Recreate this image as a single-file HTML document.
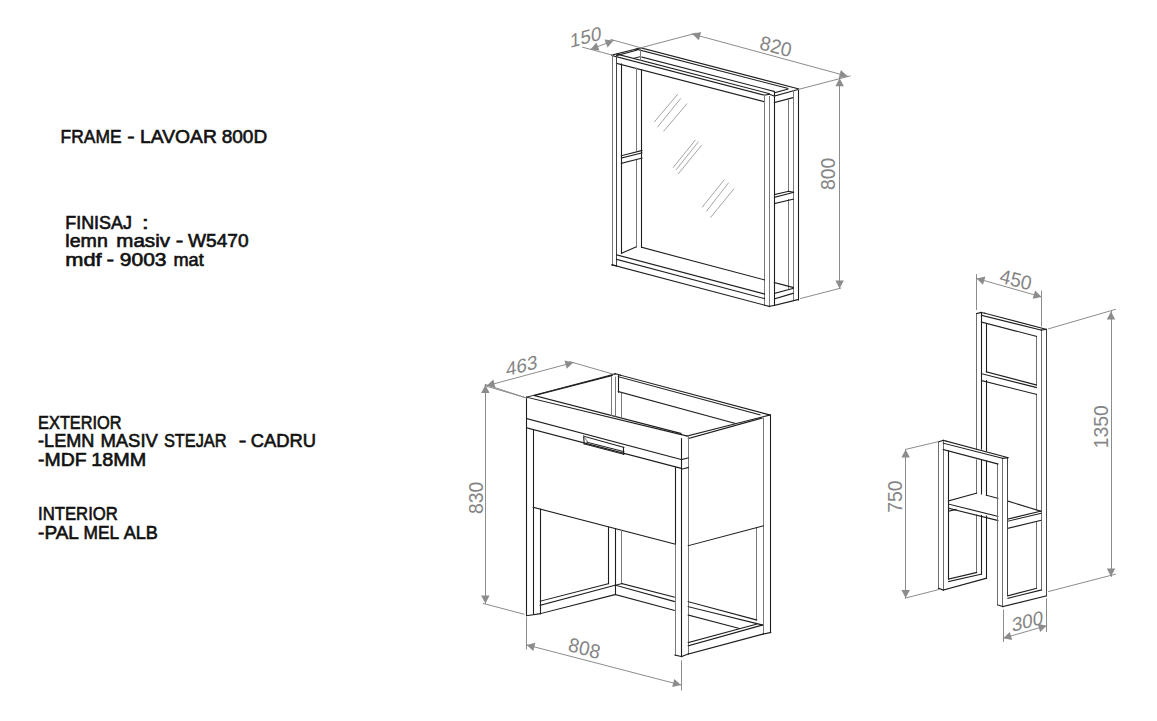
<!DOCTYPE html>
<html><head><meta charset="utf-8"><style>
html,body{margin:0;padding:0;background:#fff;}
body{width:1157px;height:721px;position:relative;overflow:hidden;font-family:"Liberation Sans",sans-serif;}
svg{position:absolute;left:0;top:0;}
</style></head><body>
<svg width="1157" height="721" viewBox="0 0 1157 721" font-family="Liberation Sans, sans-serif" stroke-linecap="square">
<g fill="#111" stroke="#111" stroke-width="0.6">
<text x="60.6" y="142.9" font-size="18.5" textLength="60.9" lengthAdjust="spacingAndGlyphs">FRAME</text>
<text x="127.3" y="142.9" font-size="18.5" textLength="7.4" lengthAdjust="spacingAndGlyphs">-</text>
<text x="140.1" y="142.9" font-size="18.5" textLength="76.8" lengthAdjust="spacingAndGlyphs">LAVOAR</text>
<text x="221.7" y="142.9" font-size="18.5" textLength="45.5" lengthAdjust="spacingAndGlyphs">800D</text>
<text x="65.3" y="229.2" font-size="17.5" textLength="66.6" lengthAdjust="spacingAndGlyphs">FINISAJ</text>
<text x="142.0" y="229.2" font-size="17.5" textLength="6.7" lengthAdjust="spacingAndGlyphs">:</text>
<text x="65.3" y="247.4" font-size="17.5" textLength="42.5" lengthAdjust="spacingAndGlyphs">lemn</text>
<text x="116.3" y="247.4" font-size="17.5" textLength="53.7" lengthAdjust="spacingAndGlyphs">masiv</text>
<text x="175.7" y="247.4" font-size="17.5" textLength="7.5" lengthAdjust="spacingAndGlyphs">-</text>
<text x="188.1" y="247.4" font-size="17.5" textLength="60.5" lengthAdjust="spacingAndGlyphs">W5470</text>
<text x="65.3" y="266.4" font-size="17.5" textLength="36.4" lengthAdjust="spacingAndGlyphs">mdf</text>
<text x="106.5" y="266.4" font-size="17.5" textLength="7.6" lengthAdjust="spacingAndGlyphs">-</text>
<text x="119.8" y="266.4" font-size="17.5" textLength="46.7" lengthAdjust="spacingAndGlyphs">9003</text>
<text x="173.4" y="266.4" font-size="17.5" textLength="30.3" lengthAdjust="spacingAndGlyphs">mat</text>
<text x="38.1" y="428.6" font-size="17.5" textLength="83.5" lengthAdjust="spacingAndGlyphs">EXTERIOR</text>
<text x="38.1" y="446.5" font-size="17.5" textLength="56.3" lengthAdjust="spacingAndGlyphs">-LEMN</text>
<text x="100.4" y="446.5" font-size="17.5" textLength="57.5" lengthAdjust="spacingAndGlyphs">MASIV</text>
<text x="163.9" y="446.5" font-size="17.5" textLength="62.7" lengthAdjust="spacingAndGlyphs">STEJAR</text>
<text x="238.8" y="446.5" font-size="17.5" textLength="7.6" lengthAdjust="spacingAndGlyphs">-</text>
<text x="250.8" y="446.5" font-size="17.5" textLength="65.3" lengthAdjust="spacingAndGlyphs">CADRU</text>
<text x="38.1" y="466" font-size="17.5" textLength="48.5" lengthAdjust="spacingAndGlyphs">-MDF</text>
<text x="91.3" y="466" font-size="17.5" textLength="55.0" lengthAdjust="spacingAndGlyphs">18MM</text>
<text x="38.1" y="520.4" font-size="17.5" textLength="79.7" lengthAdjust="spacingAndGlyphs">INTERIOR</text>
<text x="38.1" y="538.5" font-size="17.5" textLength="40.8" lengthAdjust="spacingAndGlyphs">-PAL</text>
<text x="83.5" y="538.5" font-size="17.5" textLength="35.6" lengthAdjust="spacingAndGlyphs">MEL</text>
<text x="123.7" y="538.5" font-size="17.5" textLength="34.2" lengthAdjust="spacingAndGlyphs">ALB</text>
</g>
<line x1="640.8" y1="47.8" x2="798.5" y2="88.8" stroke="#1e1e1e" stroke-width="1.1"/>
<line x1="636.0" y1="49.0" x2="787.8" y2="88.4" stroke="#1e1e1e" stroke-width="1.1"/>
<line x1="641.9" y1="57.1" x2="774.4" y2="91.5" stroke="#1e1e1e" stroke-width="1.1"/>
<line x1="616.8" y1="54.1" x2="769.0" y2="93.6" stroke="#1e1e1e" stroke-width="1.1"/>
<line x1="612.0" y1="55.5" x2="764.5" y2="95.2" stroke="#1e1e1e" stroke-width="1.1"/>
<line x1="616.5" y1="63.3" x2="764.5" y2="101.8" stroke="#1e1e1e" stroke-width="1.1"/>
<line x1="612.0" y1="55.0" x2="640.8" y2="47.8" stroke="#1e1e1e" stroke-width="1.1"/>
<line x1="616.6" y1="55.5" x2="637.0" y2="50.2" stroke="#1e1e1e" stroke-width="1.1"/>
<line x1="634.3" y1="58.2" x2="640.5" y2="56.6" stroke="#1e1e1e" stroke-width="1.1"/>
<line x1="764.5" y1="95.2" x2="769.3" y2="94.2" stroke="#1e1e1e" stroke-width="1.1"/>
<line x1="769.3" y1="94.2" x2="774.4" y2="96.0" stroke="#1e1e1e" stroke-width="1.1"/>
<line x1="774.4" y1="96.0" x2="798.5" y2="89.4" stroke="#1e1e1e" stroke-width="1.1"/>
<line x1="774.4" y1="92.9" x2="787.8" y2="89.2" stroke="#1e1e1e" stroke-width="1.1"/>
<line x1="774.4" y1="102.5" x2="793.5" y2="97.5" stroke="#1e1e1e" stroke-width="1.1"/>
<line x1="612.5" y1="55.0" x2="612.5" y2="265.0" stroke="#7a7a7a" stroke-width="1.0"/>
<line x1="616.5" y1="56.7" x2="616.5" y2="265.8" stroke="#444" stroke-width="1.0"/>
<line x1="621.5" y1="64.0" x2="621.5" y2="253.3" stroke="#1e1e1e" stroke-width="1.1"/>
<line x1="636.5" y1="68.4" x2="636.5" y2="150.5" stroke="#7a7a7a" stroke-width="1.0"/>
<line x1="636.5" y1="159.7" x2="636.5" y2="247.0" stroke="#7a7a7a" stroke-width="1.0"/>
<line x1="641.5" y1="69.9" x2="641.5" y2="247.5" stroke="#1e1e1e" stroke-width="1.1"/>
<line x1="640.5" y1="48.3" x2="640.5" y2="60.3" stroke="#7a7a7a" stroke-width="1.0"/>
<line x1="764.5" y1="95.2" x2="764.5" y2="305.2" stroke="#7a7a7a" stroke-width="1.0"/>
<line x1="769.5" y1="96.5" x2="769.5" y2="306.4" stroke="#7a7a7a" stroke-width="1.0"/>
<line x1="774.5" y1="92.9" x2="774.5" y2="305.3" stroke="#1e1e1e" stroke-width="1.1"/>
<line x1="788.5" y1="99.2" x2="788.5" y2="191.3" stroke="#7a7a7a" stroke-width="1.0"/>
<line x1="788.5" y1="199.5" x2="788.5" y2="288.4" stroke="#7a7a7a" stroke-width="1.0"/>
<line x1="793.5" y1="90.5" x2="793.5" y2="300.3" stroke="#7a7a7a" stroke-width="1.0"/>
<line x1="798.5" y1="89.4" x2="798.5" y2="300.0" stroke="#1e1e1e" stroke-width="1.1"/>
<line x1="621.4" y1="155.7" x2="641.9" y2="150.5" stroke="#1e1e1e" stroke-width="1.1"/>
<line x1="621.4" y1="158.0" x2="641.9" y2="152.8" stroke="#1e1e1e" stroke-width="1.1"/>
<line x1="621.4" y1="163.3" x2="641.9" y2="158.2" stroke="#1e1e1e" stroke-width="1.1"/>
<line x1="774.5" y1="194.5" x2="788.3" y2="191.3" stroke="#1e1e1e" stroke-width="1.1"/>
<line x1="788.3" y1="191.3" x2="793.5" y2="192.3" stroke="#1e1e1e" stroke-width="1.1"/>
<line x1="774.5" y1="197.3" x2="793.5" y2="192.3" stroke="#1e1e1e" stroke-width="1.1"/>
<line x1="774.5" y1="203.6" x2="793.5" y2="199.2" stroke="#1e1e1e" stroke-width="1.1"/>
<line x1="641.9" y1="247.4" x2="764.5" y2="279.9" stroke="#1e1e1e" stroke-width="1.1"/>
<line x1="774.4" y1="282.5" x2="793.2" y2="287.5" stroke="#1e1e1e" stroke-width="1.1"/>
<line x1="616.5" y1="254.8" x2="764.5" y2="294.0" stroke="#1e1e1e" stroke-width="1.1"/>
<line x1="616.5" y1="259.4" x2="764.5" y2="298.6" stroke="#1e1e1e" stroke-width="1.1"/>
<line x1="612.0" y1="264.8" x2="769.5" y2="306.5" stroke="#1e1e1e" stroke-width="1.1"/>
<line x1="621.5" y1="253.3" x2="636.0" y2="247.0" stroke="#1e1e1e" stroke-width="1.1"/>
<line x1="612.0" y1="265.0" x2="616.5" y2="265.8" stroke="#1e1e1e" stroke-width="1.1"/>
<line x1="774.8" y1="293.3" x2="793.2" y2="288.4" stroke="#1e1e1e" stroke-width="1.1"/>
<line x1="774.8" y1="298.7" x2="793.2" y2="293.3" stroke="#1e1e1e" stroke-width="1.1"/>
<line x1="774.8" y1="305.3" x2="798.3" y2="299.5" stroke="#1e1e1e" stroke-width="1.1"/>
<line x1="769.5" y1="306.4" x2="774.5" y2="305.3" stroke="#1e1e1e" stroke-width="1.1"/>
<line x1="654.6" y1="121.6" x2="677.4" y2="94.6" stroke="#9a9a9a" stroke-width="0.9"/>
<line x1="657.7" y1="126.8" x2="680.6" y2="98.7" stroke="#9a9a9a" stroke-width="0.9"/>
<line x1="663.9" y1="131.0" x2="686.8" y2="103.9" stroke="#9a9a9a" stroke-width="0.9"/>
<line x1="673.3" y1="167.4" x2="695.1" y2="140.3" stroke="#9a9a9a" stroke-width="0.9"/>
<line x1="676.4" y1="169.4" x2="698.2" y2="142.0" stroke="#9a9a9a" stroke-width="0.9"/>
<line x1="678.5" y1="173.6" x2="701.4" y2="145.5" stroke="#9a9a9a" stroke-width="0.9"/>
<line x1="702.4" y1="206.9" x2="724.2" y2="179.8" stroke="#9a9a9a" stroke-width="0.9"/>
<line x1="706.6" y1="211.0" x2="728.4" y2="183.0" stroke="#9a9a9a" stroke-width="0.9"/>
<line x1="710.7" y1="217.3" x2="733.6" y2="189.2" stroke="#9a9a9a" stroke-width="0.9"/>
<line x1="611.9" y1="55.0" x2="582.5" y2="47.2" stroke="#8c8c8c" stroke-width="1.0"/>
<line x1="640.4" y1="47.7" x2="611.0" y2="39.5" stroke="#8c8c8c" stroke-width="1.0"/>
<line x1="590.5" y1="49.5" x2="613.5" y2="40.5" stroke="#8c8c8c" stroke-width="1.0"/>
<polygon points="590.5,49.5 596.4,42.6 599.5,50.5" fill="#8c8c8c"/>
<polygon points="613.5,40.5 607.6,47.4 604.5,39.5" fill="#8c8c8c"/>
<text x="0" y="0" transform="matrix(0.966,-0.259,0.0,1.0,585.7,36.7)" text-anchor="middle" dominant-baseline="central" font-size="19.4" fill="#858585">150</text>
<line x1="640.8" y1="47.8" x2="696.0" y2="33.2" stroke="#8c8c8c" stroke-width="1.0"/>
<line x1="692.3" y1="34.0" x2="847.5" y2="76.2" stroke="#8c8c8c" stroke-width="1.0"/>
<polygon points="692.3,34.0 701.1,32.0 698.9,40.2" fill="#8c8c8c"/>
<polygon points="847.5,76.2 838.7,78.2 840.9,70.0" fill="#8c8c8c"/>
<line x1="798.5" y1="89.4" x2="850.0" y2="76.0" stroke="#8c8c8c" stroke-width="1.0"/>
<text x="0" y="0" transform="matrix(0.966,0.259,-0.22,1.0,775.9,46.3)" text-anchor="middle" dominant-baseline="central" font-size="19.4" fill="#858585">820</text>
<line x1="839.5" y1="78.3" x2="839.5" y2="288.6" stroke="#8c8c8c" stroke-width="1.0"/>
<polygon points="839.6,78.3 843.9,86.3 835.4,86.3" fill="#8c8c8c"/>
<polygon points="839.6,288.6 835.4,280.6 843.9,280.6" fill="#8c8c8c"/>
<line x1="800.6" y1="298.5" x2="840.7" y2="288.1" stroke="#8c8c8c" stroke-width="1.0"/>
<text x="0" y="0" transform="matrix(0,-1,1,0,828,173.9)" text-anchor="middle" dominant-baseline="central" font-size="19.4" fill="#858585">800</text>
<line x1="526.6" y1="397.2" x2="687.0" y2="436.0" stroke="#1e1e1e" stroke-width="1.1"/>
<line x1="534.4" y1="395.5" x2="681.0" y2="433.5" stroke="#1e1e1e" stroke-width="1.1"/>
<line x1="526.6" y1="418.6" x2="681.6" y2="459.6" stroke="#1e1e1e" stroke-width="1.1"/>
<line x1="526.6" y1="427.8" x2="681.7" y2="468.5" stroke="#1e1e1e" stroke-width="1.1"/>
<line x1="526.6" y1="397.2" x2="615.4" y2="373.9" stroke="#1e1e1e" stroke-width="1.1"/>
<line x1="534.4" y1="395.5" x2="612.0" y2="375.5" stroke="#1e1e1e" stroke-width="1.1"/>
<line x1="620.4" y1="375.2" x2="770.0" y2="415.0" stroke="#1e1e1e" stroke-width="1.1"/>
<line x1="618.4" y1="376.7" x2="760.0" y2="414.8" stroke="#1e1e1e" stroke-width="1.1"/>
<line x1="609.7" y1="375.7" x2="615.5" y2="373.7" stroke="#1e1e1e" stroke-width="1.1"/>
<line x1="615.5" y1="373.7" x2="620.4" y2="375.2" stroke="#1e1e1e" stroke-width="1.1"/>
<line x1="618.3" y1="391.6" x2="735.0" y2="423.3" stroke="#1e1e1e" stroke-width="1.1"/>
<line x1="687.0" y1="436.0" x2="770.0" y2="415.0" stroke="#1e1e1e" stroke-width="1.1"/>
<line x1="688.3" y1="438.5" x2="762.0" y2="418.0" stroke="#1e1e1e" stroke-width="1.1"/>
<line x1="618.5" y1="375.7" x2="618.5" y2="392.2" stroke="#1e1e1e" stroke-width="1.1"/>
<line x1="611.5" y1="376.7" x2="611.5" y2="415.5" stroke="#7a7a7a" stroke-width="1.0"/>
<line x1="615.5" y1="377.1" x2="615.5" y2="416.0" stroke="#7a7a7a" stroke-width="1.0"/>
<line x1="621.5" y1="393.2" x2="621.5" y2="417.0" stroke="#7a7a7a" stroke-width="1.0"/>
<line x1="526.5" y1="397.2" x2="526.5" y2="615.7" stroke="#1e1e1e" stroke-width="1.1"/>
<line x1="533.5" y1="429.6" x2="533.5" y2="613.7" stroke="#1e1e1e" stroke-width="1.1"/>
<line x1="540.5" y1="509.3" x2="540.5" y2="613.7" stroke="#1e1e1e" stroke-width="1.1"/>
<line x1="675.5" y1="467.5" x2="675.5" y2="544.2" stroke="#1e1e1e" stroke-width="1.1"/>
<line x1="675.5" y1="544.2" x2="675.5" y2="655.0" stroke="#7a7a7a" stroke-width="1.0"/>
<line x1="681.5" y1="438.7" x2="681.5" y2="656.6" stroke="#1e1e1e" stroke-width="1.1"/>
<line x1="688.5" y1="436.2" x2="688.5" y2="654.0" stroke="#7a7a7a" stroke-width="1.0"/>
<line x1="756.5" y1="528.3" x2="756.5" y2="620.0" stroke="#7a7a7a" stroke-width="1.0"/>
<line x1="763.5" y1="418.0" x2="763.5" y2="634.0" stroke="#7a7a7a" stroke-width="1.0"/>
<line x1="770.5" y1="415.0" x2="770.5" y2="632.5" stroke="#1e1e1e" stroke-width="1.1"/>
<line x1="533.3" y1="507.3" x2="675.0" y2="544.2" stroke="#1e1e1e" stroke-width="1.1"/>
<line x1="583.6" y1="436.2" x2="623.8" y2="447.4" stroke="#1e1e1e" stroke-width="1.1"/>
<line x1="623.5" y1="447.4" x2="623.5" y2="454.3" stroke="#1e1e1e" stroke-width="1.1"/>
<line x1="623.8" y1="454.3" x2="584.2" y2="443.8" stroke="#1e1e1e" stroke-width="1.1"/>
<line x1="584.2" y1="443.8" x2="583.6" y2="436.2" stroke="#1e1e1e" stroke-width="1.1"/>
<line x1="586.9" y1="442.2" x2="623.8" y2="451.6" stroke="#1e1e1e" stroke-width="1.1"/>
<line x1="583.6" y1="436.2" x2="587.5" y2="441.5" stroke="#7a7a7a" stroke-width="1.0"/>
<line x1="688.3" y1="545.7" x2="763.2" y2="525.8" stroke="#1e1e1e" stroke-width="1.1"/>
<line x1="681.6" y1="459.6" x2="688.3" y2="457.9" stroke="#1e1e1e" stroke-width="1.1"/>
<line x1="681.6" y1="469.2" x2="688.3" y2="467.5" stroke="#1e1e1e" stroke-width="1.1"/>
<line x1="608.5" y1="527.2" x2="608.5" y2="583.6" stroke="#1e1e1e" stroke-width="1.1"/>
<line x1="615.5" y1="529.0" x2="615.5" y2="594.5" stroke="#1e1e1e" stroke-width="1.1"/>
<line x1="621.5" y1="530.6" x2="621.5" y2="583.6" stroke="#7a7a7a" stroke-width="1.0"/>
<line x1="540.2" y1="601.2" x2="608.6" y2="583.6" stroke="#1e1e1e" stroke-width="1.1"/>
<line x1="540.2" y1="605.3" x2="615.4" y2="585.2" stroke="#1e1e1e" stroke-width="1.1"/>
<line x1="540.2" y1="613.7" x2="615.4" y2="594.5" stroke="#1e1e1e" stroke-width="1.1"/>
<line x1="526.6" y1="615.7" x2="540.2" y2="613.7" stroke="#1e1e1e" stroke-width="1.1"/>
<line x1="621.8" y1="583.6" x2="674.3" y2="597.2" stroke="#1e1e1e" stroke-width="1.1"/>
<line x1="615.4" y1="585.2" x2="674.3" y2="601.5" stroke="#1e1e1e" stroke-width="1.1"/>
<line x1="615.4" y1="594.5" x2="674.3" y2="610.4" stroke="#1e1e1e" stroke-width="1.1"/>
<line x1="615.4" y1="585.2" x2="621.8" y2="583.6" stroke="#1e1e1e" stroke-width="1.1"/>
<line x1="688.3" y1="601.7" x2="756.6" y2="620.0" stroke="#1e1e1e" stroke-width="1.1"/>
<line x1="688.3" y1="606.7" x2="762.5" y2="625.0" stroke="#1e1e1e" stroke-width="1.1"/>
<line x1="688.3" y1="615.0" x2="739.0" y2="628.3" stroke="#1e1e1e" stroke-width="1.1"/>
<line x1="688.3" y1="654.0" x2="763.2" y2="634.0" stroke="#1e1e1e" stroke-width="1.1"/>
<line x1="688.3" y1="645.8" x2="762.5" y2="625.0" stroke="#1e1e1e" stroke-width="1.1"/>
<line x1="688.3" y1="642.5" x2="756.6" y2="624.2" stroke="#1e1e1e" stroke-width="1.1"/>
<line x1="675.0" y1="655.0" x2="681.7" y2="656.6" stroke="#1e1e1e" stroke-width="1.1"/>
<line x1="681.7" y1="656.6" x2="688.3" y2="654.0" stroke="#1e1e1e" stroke-width="1.1"/>
<line x1="763.2" y1="634.0" x2="770.7" y2="632.5" stroke="#1e1e1e" stroke-width="1.1"/>
<line x1="485.2" y1="384.4" x2="526.7" y2="398.1" stroke="#8c8c8c" stroke-width="1.0"/>
<line x1="483.4" y1="603.5" x2="524.0" y2="614.2" stroke="#8c8c8c" stroke-width="1.0"/>
<line x1="485.5" y1="385.0" x2="485.5" y2="603.5" stroke="#8c8c8c" stroke-width="1.0"/>
<polygon points="485.4,385.0 489.6,393.0 481.1,393.0" fill="#8c8c8c"/>
<polygon points="485.4,603.5 481.1,595.5 489.6,595.5" fill="#8c8c8c"/>
<text x="0" y="0" transform="matrix(0,-1,1,0,476.2,497.9)" text-anchor="middle" dominant-baseline="central" font-size="19.4" fill="#858585">830</text>
<line x1="525.0" y1="397.5" x2="485.0" y2="385.8" stroke="#8c8c8c" stroke-width="1.0"/>
<line x1="613.3" y1="374.2" x2="570.0" y2="361.7" stroke="#8c8c8c" stroke-width="1.0"/>
<line x1="486.7" y1="385.8" x2="573.3" y2="362.5" stroke="#8c8c8c" stroke-width="1.0"/>
<polygon points="486.7,385.8 493.3,379.6 495.5,387.8" fill="#8c8c8c"/>
<polygon points="573.3,362.5 566.7,368.7 564.5,360.5" fill="#8c8c8c"/>
<text x="0" y="0" transform="matrix(0.966,-0.259,0.0,1.0,521.7,365.4)" text-anchor="middle" dominant-baseline="central" font-size="19.4" fill="#858585">463</text>
<line x1="526.5" y1="617.8" x2="526.5" y2="649.0" stroke="#8c8c8c" stroke-width="1.0"/>
<line x1="681.5" y1="660.8" x2="681.5" y2="690.0" stroke="#8c8c8c" stroke-width="1.0"/>
<line x1="526.6" y1="644.9" x2="681.0" y2="685.0" stroke="#8c8c8c" stroke-width="1.0"/>
<polygon points="526.6,644.9 535.4,642.8 533.3,651.0" fill="#8c8c8c"/>
<polygon points="681.0,685.0 672.2,687.1 674.3,678.9" fill="#8c8c8c"/>
<text x="0" y="0" transform="matrix(0.966,0.259,-0.22,1.0,584.5,648.1)" text-anchor="middle" dominant-baseline="central" font-size="19.4" fill="#858585">808</text>
<line x1="976.5" y1="313.6" x2="976.5" y2="449.5" stroke="#6f6f6f" stroke-width="1.0"/>
<line x1="976.5" y1="460.0" x2="976.5" y2="493.1" stroke="#6f6f6f" stroke-width="1.0"/>
<line x1="976.5" y1="515.0" x2="976.5" y2="572.5" stroke="#6f6f6f" stroke-width="1.0"/>
<line x1="981.5" y1="312.5" x2="981.5" y2="449.0" stroke="#1e1e1e" stroke-width="1.1"/>
<line x1="981.5" y1="460.5" x2="981.5" y2="494.0" stroke="#1e1e1e" stroke-width="1.1"/>
<line x1="981.5" y1="515.5" x2="981.5" y2="574.1" stroke="#1e1e1e" stroke-width="1.1"/>
<line x1="986.5" y1="323.5" x2="986.5" y2="371.9" stroke="#1e1e1e" stroke-width="1.1"/>
<line x1="986.5" y1="380.6" x2="986.5" y2="450.8" stroke="#1e1e1e" stroke-width="1.1"/>
<line x1="986.5" y1="461.2" x2="986.5" y2="495.2" stroke="#1e1e1e" stroke-width="1.1"/>
<line x1="986.5" y1="516.0" x2="986.5" y2="578.3" stroke="#1e1e1e" stroke-width="1.1"/>
<line x1="1036.5" y1="336.4" x2="1036.5" y2="385.0" stroke="#6f6f6f" stroke-width="1.0"/>
<line x1="1036.5" y1="394.3" x2="1036.5" y2="509.6" stroke="#6f6f6f" stroke-width="1.0"/>
<line x1="1036.5" y1="521.7" x2="1036.5" y2="588.3" stroke="#6f6f6f" stroke-width="1.0"/>
<line x1="1041.5" y1="330.1" x2="1041.5" y2="590.0" stroke="#6f6f6f" stroke-width="1.0"/>
<line x1="1046.5" y1="329.4" x2="1046.5" y2="595.8" stroke="#444" stroke-width="1.0"/>
<line x1="976.6" y1="313.6" x2="981.0" y2="312.5" stroke="#1e1e1e" stroke-width="1.1"/>
<line x1="981.0" y1="312.5" x2="984.7" y2="313.2" stroke="#1e1e1e" stroke-width="1.1"/>
<line x1="984.7" y1="313.2" x2="1046.4" y2="329.4" stroke="#1e1e1e" stroke-width="1.1"/>
<line x1="981.5" y1="315.4" x2="1041.3" y2="330.1" stroke="#1e1e1e" stroke-width="1.1"/>
<line x1="1041.3" y1="330.1" x2="1046.4" y2="329.4" stroke="#1e1e1e" stroke-width="1.1"/>
<line x1="981.5" y1="322.0" x2="1036.4" y2="336.4" stroke="#1e1e1e" stroke-width="1.1"/>
<line x1="986.3" y1="371.9" x2="1036.4" y2="385.0" stroke="#1e1e1e" stroke-width="1.1"/>
<line x1="981.5" y1="373.7" x2="1036.4" y2="387.5" stroke="#1e1e1e" stroke-width="1.1"/>
<line x1="981.5" y1="380.6" x2="1036.4" y2="394.3" stroke="#1e1e1e" stroke-width="1.1"/>
<line x1="948.9" y1="500.7" x2="976.6" y2="493.1" stroke="#1e1e1e" stroke-width="1.1"/>
<line x1="986.3" y1="495.2" x2="997.9" y2="498.4" stroke="#1e1e1e" stroke-width="1.1"/>
<line x1="1007.9" y1="501.1" x2="1040.8" y2="511.2" stroke="#1e1e1e" stroke-width="1.1"/>
<line x1="948.9" y1="504.2" x2="997.9" y2="516.3" stroke="#1e1e1e" stroke-width="1.1"/>
<line x1="948.9" y1="508.4" x2="997.9" y2="520.5" stroke="#1e1e1e" stroke-width="1.1"/>
<line x1="948.9" y1="511.0" x2="956.0" y2="509.5" stroke="#1e1e1e" stroke-width="1.1"/>
<line x1="1007.9" y1="519.1" x2="1040.8" y2="511.2" stroke="#1e1e1e" stroke-width="1.1"/>
<line x1="1007.9" y1="521.2" x2="1040.8" y2="513.3" stroke="#1e1e1e" stroke-width="1.1"/>
<line x1="1007.9" y1="528.3" x2="1040.8" y2="520.4" stroke="#1e1e1e" stroke-width="1.1"/>
<line x1="938.5" y1="441.8" x2="938.5" y2="588.3" stroke="#6f6f6f" stroke-width="1.0"/>
<line x1="943.5" y1="440.4" x2="943.5" y2="590.0" stroke="#6f6f6f" stroke-width="1.0"/>
<line x1="948.5" y1="450.8" x2="948.5" y2="579.1" stroke="#1e1e1e" stroke-width="1.1"/>
<line x1="997.5" y1="464.0" x2="997.5" y2="604.9" stroke="#6f6f6f" stroke-width="1.0"/>
<line x1="1002.5" y1="458.4" x2="1002.5" y2="606.6" stroke="#6f6f6f" stroke-width="1.0"/>
<line x1="1007.5" y1="457.7" x2="1007.5" y2="595.8" stroke="#444" stroke-width="1.0"/>
<line x1="938.5" y1="441.8" x2="943.3" y2="440.4" stroke="#1e1e1e" stroke-width="1.1"/>
<line x1="943.3" y1="440.4" x2="946.0" y2="441.1" stroke="#1e1e1e" stroke-width="1.1"/>
<line x1="946.0" y1="441.1" x2="1007.9" y2="457.7" stroke="#1e1e1e" stroke-width="1.1"/>
<line x1="943.3" y1="443.2" x2="1002.9" y2="458.4" stroke="#1e1e1e" stroke-width="1.1"/>
<line x1="1002.9" y1="458.4" x2="1007.9" y2="457.7" stroke="#1e1e1e" stroke-width="1.1"/>
<line x1="943.3" y1="449.5" x2="997.9" y2="464.0" stroke="#1e1e1e" stroke-width="1.1"/>
<line x1="943.3" y1="590.0" x2="986.3" y2="578.3" stroke="#1e1e1e" stroke-width="1.1"/>
<line x1="948.6" y1="579.1" x2="976.6" y2="572.5" stroke="#1e1e1e" stroke-width="1.1"/>
<line x1="948.6" y1="581.6" x2="981.5" y2="574.1" stroke="#1e1e1e" stroke-width="1.1"/>
<line x1="938.5" y1="588.3" x2="943.3" y2="590.0" stroke="#1e1e1e" stroke-width="1.1"/>
<line x1="1002.9" y1="606.6" x2="1046.4" y2="595.8" stroke="#1e1e1e" stroke-width="1.1"/>
<line x1="1007.9" y1="595.8" x2="1036.4" y2="588.3" stroke="#1e1e1e" stroke-width="1.1"/>
<line x1="1007.9" y1="598.3" x2="1041.3" y2="590.0" stroke="#1e1e1e" stroke-width="1.1"/>
<line x1="997.9" y1="604.9" x2="1002.9" y2="606.6" stroke="#1e1e1e" stroke-width="1.1"/>
<line x1="976.5" y1="274.6" x2="976.5" y2="309.5" stroke="#8c8c8c" stroke-width="1.0"/>
<line x1="1041.5" y1="291.0" x2="1041.5" y2="326.0" stroke="#8c8c8c" stroke-width="1.0"/>
<line x1="976.5" y1="278.4" x2="1041.6" y2="296.9" stroke="#8c8c8c" stroke-width="1.0"/>
<polygon points="976.5,278.4 985.4,276.5 983.0,284.7" fill="#8c8c8c"/>
<polygon points="1041.6,296.9 1032.7,298.8 1035.1,290.6" fill="#8c8c8c"/>
<text x="0" y="0" transform="matrix(0.966,0.259,-0.22,1.0,1015.9,279.4)" text-anchor="middle" dominant-baseline="central" font-size="19.4" fill="#858585">450</text>
<line x1="1048.6" y1="328.8" x2="1115.4" y2="309.4" stroke="#8c8c8c" stroke-width="1.0"/>
<line x1="1048.6" y1="591.5" x2="1115.4" y2="574.2" stroke="#8c8c8c" stroke-width="1.0"/>
<line x1="1111.5" y1="311.5" x2="1111.5" y2="576.4" stroke="#8c8c8c" stroke-width="1.0"/>
<polygon points="1111.0,311.5 1115.2,319.5 1106.8,319.5" fill="#8c8c8c"/>
<polygon points="1111.0,576.4 1106.8,568.4 1115.2,568.4" fill="#8c8c8c"/>
<text x="0" y="0" transform="matrix(0,-1,1,0,1101.2,426.7)" text-anchor="middle" dominant-baseline="central" font-size="19.4" fill="#858585">1350</text>
<line x1="905.6" y1="449.4" x2="938.3" y2="441.7" stroke="#8c8c8c" stroke-width="1.0"/>
<line x1="905.6" y1="598.0" x2="938.3" y2="589.7" stroke="#8c8c8c" stroke-width="1.0"/>
<line x1="905.5" y1="449.4" x2="905.5" y2="598.0" stroke="#8c8c8c" stroke-width="1.0"/>
<polygon points="905.6,449.4 909.9,457.4 901.4,457.4" fill="#8c8c8c"/>
<polygon points="905.6,598.0 901.4,590.0 909.9,590.0" fill="#8c8c8c"/>
<text x="0" y="0" transform="matrix(0,-1,1,0,895.3,496.7)" text-anchor="middle" dominant-baseline="central" font-size="19.4" fill="#858585">750</text>
<line x1="1003.5" y1="610.0" x2="1003.5" y2="641.5" stroke="#8c8c8c" stroke-width="1.0"/>
<line x1="1046.5" y1="599.0" x2="1046.5" y2="631.5" stroke="#8c8c8c" stroke-width="1.0"/>
<line x1="1003.3" y1="638.2" x2="1046.6" y2="625.7" stroke="#8c8c8c" stroke-width="1.0"/>
<polygon points="1003.3,638.2 1009.8,631.9 1012.2,640.1" fill="#8c8c8c"/>
<polygon points="1046.6,625.7 1040.1,632.0 1037.7,623.8" fill="#8c8c8c"/>
<text x="0" y="0" transform="matrix(0.966,-0.259,0.0,1.0,1027.5,620.8)" text-anchor="middle" dominant-baseline="central" font-size="19.4" fill="#858585">300</text>
</svg>
</body></html>
